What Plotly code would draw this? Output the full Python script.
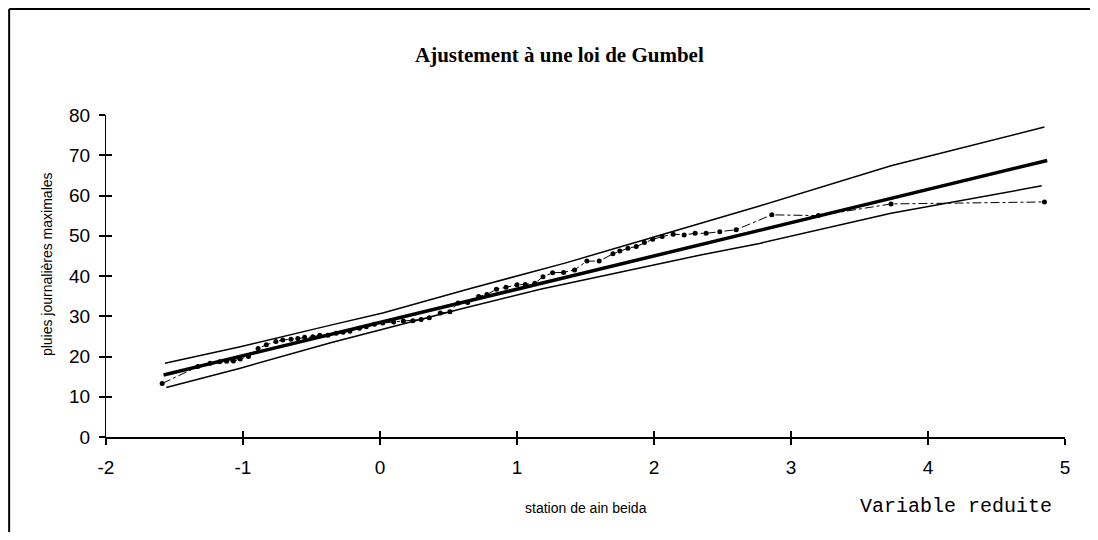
import plotly.graph_objects as go

# ---- data ----
obs_x = [-1.59, -1.33, -1.24, -1.17, -1.12, -1.07, -1.02, -0.96, -0.89, -0.83,
         -0.76, -0.71, -0.65, -0.60, -0.55, -0.49, -0.44, -0.38, -0.32, -0.27,
         -0.22, -0.15, -0.10, -0.04, 0.02, 0.10, 0.17, 0.24, 0.30, 0.36,
         0.44, 0.51, 0.57, 0.64, 0.72, 0.78, 0.85, 0.92, 1.00, 1.06,
         1.13, 1.19, 1.26, 1.34, 1.42, 1.51, 1.60, 1.70, 1.75, 1.81,
         1.87, 1.93, 1.99, 2.06, 2.14, 2.22, 2.30, 2.38, 2.48, 2.60,
         2.86, 3.20, 3.73, 4.85]
obs_y = [13.3, 17.5, 18.3, 18.7, 18.8, 18.9, 19.4, 20.0, 22.0, 22.9,
         23.7, 24.1, 24.3, 24.5, 24.8, 24.9, 25.3, 25.3, 25.8, 26.0,
         26.3, 27.0, 27.4, 28.0, 28.3, 28.6, 28.8, 28.9, 29.2, 29.6,
         30.8, 31.1, 33.3, 33.4, 34.9, 35.4, 36.7, 37.2, 37.8, 37.9,
         38.2, 39.8, 40.8, 40.9, 41.5, 43.7, 43.7, 45.5, 46.2, 46.9,
         47.3, 48.3, 49.1, 49.8, 50.4, 50.2, 50.6, 50.6, 51.0, 51.5,
         55.2, 55.0, 57.9, 58.4]

fit_x = [-1.58, 4.87]
fit_y = [15.4, 68.7]

up_x = [-1.57, -1.02, -0.36, 0.02, 0.66, 1.35, 2.00, 2.77, 3.73, 4.85]
up_y = [18.3, 22.4, 27.8, 30.8, 36.9, 43.2, 49.7, 57.4, 67.4, 77.0]

lo_x = [-1.56, -1.02, -0.36, 0.05, 0.61, 1.17, 2.34, 2.77, 3.73, 4.83]
lo_y = [12.3, 17.1, 23.4, 27.0, 32.0, 36.7, 45.2, 48.1, 55.6, 62.4]

x_ticks = [-2, -1, 0, 1, 2, 3, 4, 5]
y_ticks = [0, 10, 20, 30, 40, 50, 60, 70, 80]

title_text = "Ajustement à une loi de Gumbel"
ytitle_text = "pluies journalières maximales"
xtitle_text = "station de ain beida"
xvar_text = "Variable reduite"

# ---- figure ----
fig = go.Figure()

fig.add_trace(go.Scatter(x=up_x, y=up_y, mode="lines",
                         line=dict(color="black", width=1.5), showlegend=False))
fig.add_trace(go.Scatter(x=lo_x, y=lo_y, mode="lines",
                         line=dict(color="black", width=1.5), showlegend=False))
fig.add_trace(go.Scatter(x=fit_x, y=fit_y, mode="lines",
                         line=dict(color="black", width=3.5), showlegend=False))
fig.add_trace(go.Scatter(x=obs_x, y=obs_y, mode="lines+markers",
                         line=dict(color="black", width=1, dash="dashdot"),
                         marker=dict(color="black", size=5),
                         showlegend=False))
# invisible trace to host the overlay axes (crossing ticks)
fig.add_trace(go.Scatter(x=[None], y=[None], xaxis="x2", yaxis="y2",
                         showlegend=False, hoverinfo="skip"))

tick_font = dict(family="Liberation Sans, Arial, sans-serif", size=19, color="black")

frame_line = dict(color="black", width=2)

# the page body adds an 8px margin; keep the figure inside the window
fig.update_layout(
    width=1082, height=524,
    margin=dict(l=98, r=25, t=107, b=95),
    paper_bgcolor="white", plot_bgcolor="white",
    xaxis=dict(range=[-2, 5], tickvals=x_ticks, ticktext=[str(v) for v in x_ticks],
               showgrid=False, zeroline=False, showline=True,
               linecolor="black", linewidth=2,
               ticks="outside", ticklen=6, tickwidth=1.5, tickcolor="black",
               tickfont=tick_font, ticklabelstandoff=6),
    yaxis=dict(range=[0, 80], tickvals=y_ticks, ticktext=[str(v) for v in y_ticks],
               showgrid=False, zeroline=False, showline=True,
               linecolor="black", linewidth=1.2,
               ticks="outside", ticklen=6, tickwidth=1.5, tickcolor="black",
               tickfont=tick_font, ticklabelstandoff=5),
    xaxis2=dict(range=[-2, 5], tickvals=x_ticks, overlaying="x", anchor="y2",
                showgrid=False, zeroline=False, showline=False,
                ticks="inside", ticklen=6, tickwidth=1.5, tickcolor="black",
                showticklabels=False),
    yaxis2=dict(range=[0, 80], tickvals=y_ticks, overlaying="y", anchor="x2",
                showgrid=False, zeroline=False, showline=False,
                ticks="inside", ticklen=6, tickwidth=1.5, tickcolor="black",
                showticklabels=False),
    shapes=[
        dict(type="line", xref="paper", yref="paper",
             x0=-0.101, x1=-0.101, y0=-0.7, y1=1.329, line=frame_line, layer="below"),
        dict(type="line", xref="paper", yref="paper",
             x0=-0.101, x1=1.3, y0=1.329, y1=1.329, line=frame_line, layer="below"),
    ],
    annotations=[
        dict(text="<b>" + title_text + "</b>", xref="paper", yref="paper",
             x=0.473, y=1.186, showarrow=False, xanchor="center", yanchor="middle",
             font=dict(family="Liberation Serif, Times New Roman, serif", size=21, color="black")),
        dict(text=ytitle_text, xref="paper", yref="paper",
             x=-0.0615, y=0.537, showarrow=False, textangle=-90,
             xanchor="center", yanchor="middle",
             font=dict(family="Liberation Sans, Arial, sans-serif", size=14, color="black")),
        dict(text=xtitle_text, xref="paper", yref="paper",
             x=0.5005, y=-0.2205, showarrow=False, xanchor="center", yanchor="middle",
             font=dict(family="Liberation Sans, Arial, sans-serif", size=14, color="black")),
        dict(text=xvar_text, xref="paper", yref="paper",
             x=0.886, y=-0.217, showarrow=False, xanchor="center", yanchor="middle",
             font=dict(family="Liberation Mono, Courier New, monospace", size=20, color="black")),
    ],
)

fig.write_html("out.html")
